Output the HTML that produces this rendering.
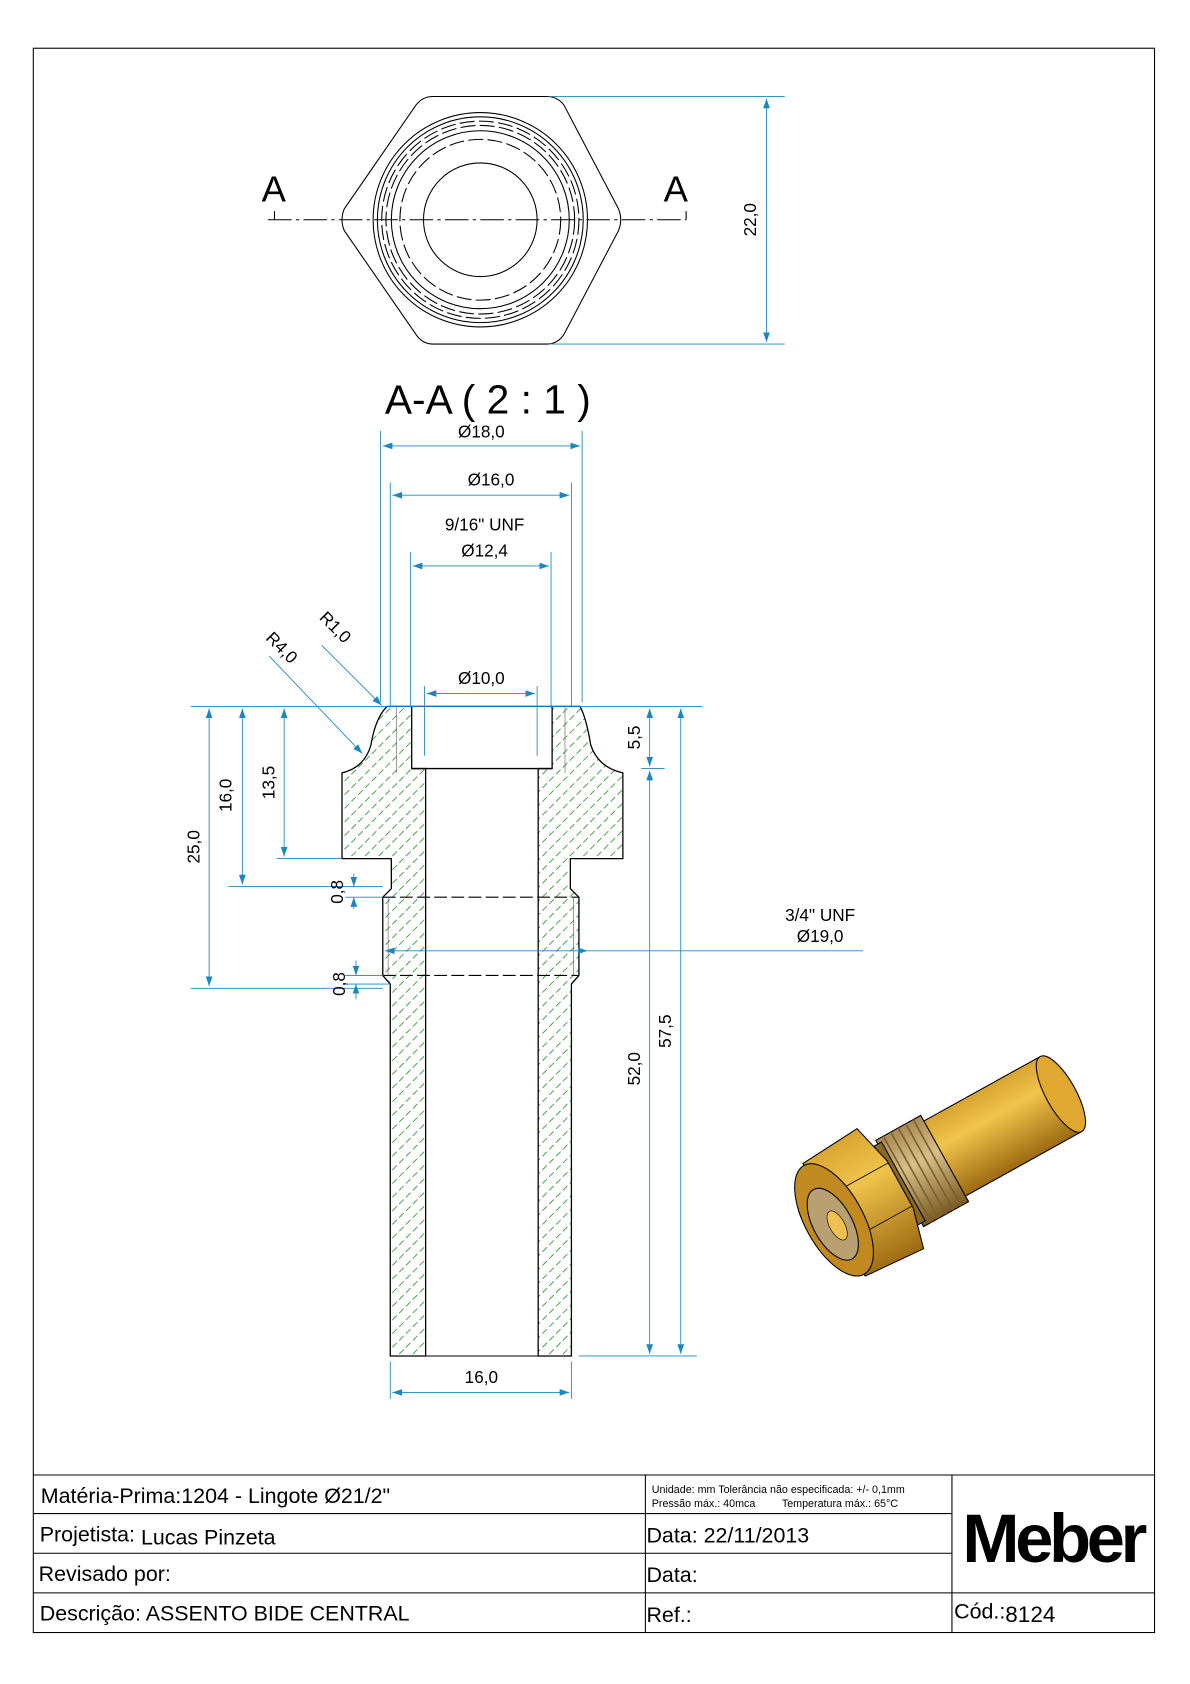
<!DOCTYPE html>
<html><head><meta charset="utf-8"><style>
html,body{margin:0;padding:0;background:#fff}
svg{display:block}
text{font-family:"Liberation Sans",Arial,sans-serif}
</style></head><body>
<svg width="1190" height="1684" viewBox="0 0 1110 1571" xmlns="http://www.w3.org/2000/svg">
<defs>
<pattern id="h" patternUnits="userSpaceOnUse" width="9" height="9" patternTransform="rotate(-45)">
<line x1="0" y1="4.5" x2="9" y2="4.5" stroke="#2a9a2a" stroke-width="0.8" stroke-dasharray="6 3"/>
</pattern>
<marker id="a" viewBox="0 0 10 10" refX="10" refY="5" markerWidth="9" markerHeight="9" orient="auto-start-reverse" markerUnits="userSpaceOnUse"><path d="M0,1.5 L10,5 L0,8.5z" fill="#1a88c0"/></marker>
<linearGradient id="br" x1="0" y1="0" x2="0" y2="1"><stop offset="0" stop-color="#d8a430"/><stop offset="0.35" stop-color="#f0c44c"/><stop offset="1" stop-color="#9c6a10"/></linearGradient>
<linearGradient id="th" x1="0" y1="0" x2="0" y2="1"><stop offset="0" stop-color="#a88a52"/><stop offset="0.4" stop-color="#d6c08a"/><stop offset="1" stop-color="#7a5a20"/></linearGradient>
</defs>
<rect x="31" y="45" width="1046" height="1478" fill="none" stroke="#000" stroke-width="1"/>

<!-- top view -->
<g fill="none" stroke="#000" stroke-width="1">
<path d="M404,90 H510 Q520,90 526,98 L577,195 Q581,205 577,215 L526,312 Q520,321 510,321 H404 Q394,321 388,312 L321,215 Q317,205 321,195 L388,98 Q394,90 404,90Z"/>
<circle cx="448" cy="205" r="100"/><circle cx="448" cy="205" r="96"/><circle cx="448" cy="205" r="83"/>
<circle cx="448" cy="205" r="53"/>
<circle cx="448" cy="205" r="92" stroke-dasharray="14 4"/>
<circle cx="448" cy="205" r="88" stroke-dasharray="14 4"/>
<circle cx="448" cy="205" r="75" stroke-dasharray="14 4"/>
<line x1="250" y1="205" x2="640" y2="205" stroke-dasharray="22 4 3 4"/>
<path d="M256,197 V205 M640,197 V205"/>
</g>
<text x="244" y="188" font-size="34">A</text><text x="619" y="188" font-size="34">A</text>
<g stroke="#1a88c0" stroke-width="0.8" fill="none">
<path d="M512,90 H732 M512,321 H732"/>
<line x1="715" y1="92" x2="715" y2="319" marker-start="url(#a)" marker-end="url(#a)"/>
</g>
<text transform="translate(705,205) rotate(-90)" font-size="16" text-anchor="middle">22,0</text>

<text x="455" y="386" font-size="38" text-anchor="middle">A-A ( 2 : 1 )</text>

<!-- section -->
<path d="M364,1265 V918 L357,910 V837 L365,829 V801 H319 V721 Q340,716 346,695 Q350,670 361,659 H384 V717 H397 V1265Z" fill="url(#h)" stroke="#000" stroke-width="1.2"/>
<path d="M533,1265 V918 L540,910 V837 L532,829 V801 H581 V721 Q558,716 551,695 Q547,670 541,659 H515 V717 H502 V1265Z" fill="url(#h)" stroke="#000" stroke-width="1.2"/>
<path d="M384,659 H515 M384,717 H515" stroke="#000" stroke-width="1.2"/>
<path d="M357,837 H540 M357,910 H540" stroke="#000" stroke-width="1" stroke-dasharray="12 4"/>
<path d="M364,1265 H533" stroke="#000"/>
<path d="M370,659 V721 M527,659 V721 M362,837 V910 M535,837 V910" stroke="#666" stroke-width="0.6"/>

<g stroke="#1a88c0" stroke-width="0.8" fill="none">
<path d="M355,402 V655 M543,402 V655 M364,450 V660 M533,450 V660 M383,515 V660 M514,515 V660 M396,640 V705 M501,640 V705"/>
<line x1="357" y1="416" x2="541" y2="416" marker-start="url(#a)" marker-end="url(#a)"/>
<line x1="366" y1="462" x2="531" y2="462" marker-start="url(#a)" marker-end="url(#a)"/>
<line x1="385" y1="528" x2="512" y2="528" marker-start="url(#a)" marker-end="url(#a)"/>
<line x1="398" y1="647" x2="499" y2="647" marker-start="url(#a)" marker-end="url(#a)"/>
<line x1="300" y1="602" x2="356" y2="658" marker-end="url(#a)"/>
<line x1="251" y1="612" x2="338" y2="703" marker-end="url(#a)"/>
<path d="M178,659 H655 M213,827 H357 M258,801 H319 M178,922 H357 M598,717 H620 M540,1265 H650"/>
<line x1="195" y1="661" x2="195" y2="920" marker-start="url(#a)" marker-end="url(#a)"/>
<line x1="226" y1="661" x2="226" y2="825" marker-start="url(#a)" marker-end="url(#a)"/>
<line x1="265" y1="661" x2="265" y2="799" marker-start="url(#a)" marker-end="url(#a)"/>
<line x1="330" y1="815" x2="330" y2="827" marker-end="url(#a)"/><line x1="330" y1="848" x2="330" y2="837" marker-end="url(#a)"/>
<path d="M322,837 H357 M322,910 H357 M322,918 H364"/>
<line x1="332" y1="896" x2="332" y2="910" marker-end="url(#a)"/><line x1="332" y1="932" x2="332" y2="918" marker-end="url(#a)"/>
<line x1="606" y1="661" x2="606" y2="715" marker-start="url(#a)" marker-end="url(#a)"/>
<line x1="606" y1="719" x2="606" y2="1263" marker-start="url(#a)" marker-end="url(#a)"/>
<line x1="635" y1="661" x2="635" y2="1263" marker-start="url(#a)" marker-end="url(#a)"/>
<line x1="359" y1="887" x2="548" y2="887" marker-start="url(#a)" marker-end="url(#a)"/>
<path d="M548,887 H805"/>
<path d="M364,1270 V1305 M533,1270 V1305"/>
<line x1="366" y1="1299" x2="531" y2="1299" marker-start="url(#a)" marker-end="url(#a)"/>
</g>
<g font-size="16">
<text x="449" y="408" text-anchor="middle">Ø18,0</text>
<text x="458" y="453" text-anchor="middle">Ø16,0</text>
<text x="452" y="495" text-anchor="middle">9/16" UNF</text>
<text x="452" y="519" text-anchor="middle">Ø12,4</text>
<text x="449" y="638" text-anchor="middle">Ø10,0</text>
<text transform="translate(297,577) rotate(45)">R1,0</text>
<text transform="translate(247,596) rotate(45)">R4,0</text>
<text transform="translate(186,790) rotate(-90)" text-anchor="middle">25,0</text>
<text transform="translate(216,742) rotate(-90)" text-anchor="middle">16,0</text>
<text transform="translate(256,730) rotate(-90)" text-anchor="middle">13,5</text>
<text transform="translate(320,832) rotate(-90)" text-anchor="middle">0,8</text>
<text transform="translate(322,918) rotate(-90)" text-anchor="middle">0,8</text>
<text transform="translate(597,688) rotate(-90)" text-anchor="middle">5,5</text>
<text transform="translate(597,997) rotate(-90)" text-anchor="middle">52,0</text>
<text transform="translate(626,962) rotate(-90)" text-anchor="middle">57,5</text>
<text x="765" y="859" text-anchor="middle">3/4" UNF</text>
<text x="765" y="879" text-anchor="middle">Ø19,0</text>
<text x="449" y="1290" text-anchor="middle">16,0</text>
</g>

<!-- 3D -->
<g transform="translate(778,1138) rotate(-29)" stroke="#000" stroke-width="1">
<rect x="90" y="-40" width="152" height="80" fill="url(#br)"/>
<ellipse cx="242" cy="0" rx="14" ry="40" fill="#e0a830"/>
<rect x="70" y="-46" width="48" height="92" fill="url(#th)"/>
<g stroke="#7a6030" stroke-width="1.5" fill="none"><path d="M78,-46 V46 M86,-46 V46 M94,-46 V46 M102,-46 V46 M110,-46 V46"/></g>
<rect x="66" y="-42" width="8" height="84" fill="#8a6a20"/>
<path d="M0,-60 L60,-64 L70,-24 L70,26 L60,64 L0,60 Z" fill="url(#br)"/>
<path d="M0,-22 H70 M0,24 H70" stroke-width="0.8"/>
<ellipse cx="0" cy="0" rx="27" ry="58" fill="#c08a20"/>
<ellipse cx="-3" cy="3" rx="18" ry="37" fill="#b8a070"/>
<ellipse cx="0" cy="6" rx="7" ry="15" fill="#f0c050" stroke-width="0.6"/>
</g>

<!-- title block -->
<g stroke="#000" stroke-width="1" fill="none">
<path d="M31,1376 H1077 M31,1412 H888 M31,1449 H888 M31,1486 H1077 M602,1376 V1523 M888,1376 V1523"/>
</g>
<g font-size="20">
<text x="38" y="1402">Matéria-Prima:<tspan>1204 - Lingote Ø21/2"</tspan></text>
<text x="37" y="1438">Projetista: <tspan dy="3">Lucas Pinzeta</tspan></text>
<text x="36" y="1475">Revisado por:</text>
<text x="37" y="1512">Descrição: ASSENTO BIDE CENTRAL</text>
<text x="603" y="1439">Data: 22/11/2013</text>
<text x="603" y="1476">Data:</text>
<text x="603" y="1513">Ref.:</text>
<text x="890" y="1510">Cód.:<tspan font-size="21" dy="3">8124</tspan></text>
</g>
<text x="608" y="1393" font-size="10">Unidade: mm Tolerância não especificada: +/- 0,1mm</text>
<text x="608" y="1406" font-size="10">Pressão máx.: 40mca <tspan dx="22">Temperatura máx.: 65°C</tspan></text>
<text x="982" y="1457" font-size="64" font-weight="bold" text-anchor="middle" letter-spacing="-4">Meber</text>
</svg>
</body></html>
